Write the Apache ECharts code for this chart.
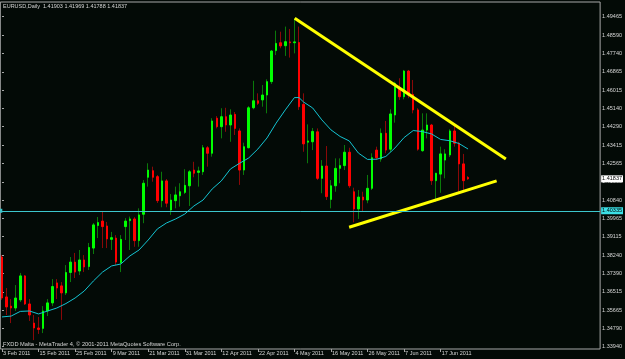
<!DOCTYPE html>
<html>
<head>
<meta charset="utf-8">
<script src="https://cdn.jsdelivr.net/npm/echarts@6/dist/echarts.min.js"></script>
<style>
html, body { margin: 0; padding: 0; background: #030a06; }
#chart { width: 625px; height: 359px; }
</style>
</head>
<body>
<div id="chart"></div>
<script>
// EURUSD daily bars, bar 0 = 3 Feb 2011, last bar is the open one
const openP = [
  1.3816, 1.3628, 1.3585, 1.3576, 1.3614, 1.3727, 1.3595, 1.3505, 1.3482, 1.3480,
  1.3562, 1.3600, 1.3694, 1.3680, 1.3647, 1.3743, 1.3792, 1.3750, 1.3802, 1.3771,
  1.3858, 1.3964, 1.3985, 1.3962, 1.3899, 1.3905, 1.3789, 1.3959, 1.3987, 1.3995,
  1.3893, 1.4017, 1.4191, 1.4222, 1.4194, 1.4081, 1.4174, 1.4037, 1.4081, 1.4104,
  1.4120, 1.4151, 1.4225, 1.4214, 1.4217, 1.4330, 1.4304, 1.4469, 1.4429, 1.4476,
  1.4437, 1.4487, 1.4409, 1.4225, 1.4330, 1.4518, 1.4551, 1.4555, 1.4578, 1.4641,
  1.4787, 1.4824, 1.4810, 1.4828, 1.4824, 1.4825, 1.4534, 1.4356, 1.4358, 1.4405,
  1.4186, 1.4244, 1.4087, 1.4151, 1.4233, 1.4246, 1.4309, 1.4123, 1.4042, 1.4098,
  1.4084, 1.4139, 1.4319, 1.4277, 1.4398, 1.4323, 1.4484, 1.4610, 1.4570, 1.4691,
  1.4581, 1.4508, 1.4316, 1.4413, 1.4437, 1.4175, 1.4206, 1.4272, 1.4296, 1.4409,
  1.4351, 1.4254, 1.41903
];
const closeP = [
  1.3623, 1.3581, 1.3576, 1.3623, 1.3727, 1.3595, 1.3543, 1.3482, 1.3475, 1.3562,
  1.3600, 1.3677, 1.3670, 1.3647, 1.3743, 1.3792, 1.3745, 1.3802, 1.3769, 1.3861,
  1.3967, 1.3978, 1.3959, 1.3901, 1.3907, 1.3792, 1.3899, 1.3985, 1.3995, 1.3893,
  1.4014, 1.4163, 1.4225, 1.4191, 1.4081, 1.4174, 1.4069, 1.4084, 1.4108, 1.4123,
  1.4153, 1.4217, 1.4210, 1.4221, 1.4330, 1.4304, 1.4456, 1.4429, 1.4476, 1.4437,
  1.4484, 1.4421, 1.4225, 1.4335, 1.4518, 1.4551, 1.4539, 1.4578, 1.4641, 1.4785,
  1.4821, 1.4809, 1.4829, 1.4824, 1.4828, 1.4523, 1.4348, 1.4362, 1.4407, 1.4186,
  1.4244, 1.4100, 1.4151, 1.4233, 1.4246, 1.4309, 1.4151, 1.4042, 1.4098, 1.4084,
  1.4139, 1.4283, 1.4283, 1.4398, 1.4319, 1.4489, 1.4633, 1.4570, 1.4691, 1.4578,
  1.4508, 1.4323, 1.4413, 1.4437, 1.4175, 1.4210, 1.4301, 1.4301, 1.4409, 1.4351,
  1.4254, 1.4175, 1.41837
];
const lowP = [
  1.3614, 1.3543, 1.3505, 1.3562, 1.3604, 1.3590, 1.3515, 1.3425, 1.3454, 1.3458,
  1.3538, 1.3585, 1.3618, 1.3520, 1.3637, 1.3698, 1.3717, 1.3731, 1.3745, 1.3755,
  1.3830, 1.3905, 1.3858, 1.3858, 1.3849, 1.3778, 1.3745, 1.3896, 1.3849, 1.3864,
  1.3864, 1.3975, 1.4147, 1.4170, 1.4070, 1.4050, 1.4050, 1.4014, 1.4045, 1.4053,
  1.4112, 1.4056, 1.4191, 1.4147, 1.4202, 1.4241, 1.4288, 1.4421, 1.4374, 1.4405,
  1.4358, 1.4390, 1.4155, 1.4202, 1.4327, 1.4511, 1.4531, 1.4523, 1.4492, 1.4630,
  1.4766, 1.4798, 1.4762, 1.4754, 1.4774, 1.4508, 1.4311, 1.4257, 1.4319, 1.4178,
  1.4116, 1.4084, 1.4045, 1.4123, 1.4163, 1.4225, 1.4141, 1.3979, 1.3995, 1.4029,
  1.4069, 1.4131, 1.4272, 1.4264, 1.4304, 1.4310, 1.4448, 1.4555, 1.4558, 1.4563,
  1.4492, 1.4316, 1.4311, 1.4374, 1.4155, 1.4076, 1.4118, 1.4186, 1.4286, 1.4335,
  1.4123, 1.4131, 1.41788
];
const highP = [
  1.3825, 1.3670, 1.3618, 1.3684, 1.3741, 1.3731, 1.3618, 1.3543, 1.3534, 1.3585,
  1.3618, 1.3712, 1.3712, 1.3698, 1.3778, 1.3816, 1.3835, 1.3849, 1.3825, 1.3882,
  1.3976, 1.4004, 1.4032, 1.3981, 1.3934, 1.3919, 1.3919, 1.3999, 1.4006, 1.4004,
  1.4045, 1.4178, 1.4257, 1.4241, 1.4202, 1.4217, 1.4183, 1.4112, 1.4147, 1.4163,
  1.4229, 1.4225, 1.4264, 1.4241, 1.4343, 1.4338, 1.4469, 1.4479, 1.4516, 1.4518,
  1.4511, 1.4498, 1.4421, 1.4354, 1.4526, 1.4645, 1.4586, 1.4625, 1.4652, 1.4790,
  1.4881, 1.4876, 1.4900, 1.4889, 1.4939, 1.4900, 1.4586, 1.4440, 1.4423, 1.4421,
  1.4272, 1.4338, 1.4178, 1.4280, 1.4280, 1.4343, 1.4330, 1.4142, 1.4131, 1.4123,
  1.4202, 1.4304, 1.4335, 1.4421, 1.4456, 1.4511, 1.4641, 1.4657, 1.4696, 1.4696,
  1.4649, 1.4516, 1.4492, 1.4492, 1.4442, 1.4212, 1.4335, 1.4323, 1.4417, 1.4442,
  1.4358, 1.4301, 1.41969
];

// moving average: [bar, price]
const maPoints = [
  [0, 1.3534], [2, 1.3538], [4, 1.3560], [6, 1.3562], [8, 1.3548], [10, 1.3562],
  [12, 1.3576], [14, 1.3597], [16, 1.3623], [18, 1.3656], [20, 1.3703], [22, 1.3745],
  [24, 1.3774], [26, 1.3783], [28, 1.3821], [30, 1.3849], [32, 1.3896], [34, 1.3948],
  [36, 1.3976], [38, 1.3995], [40, 1.4018], [42, 1.4056], [44, 1.4084], [46, 1.4136],
  [48, 1.4174], [50, 1.4230], [52, 1.4257], [54, 1.4282], [56, 1.4324], [58, 1.4376],
  [60, 1.4446], [62, 1.4508], [64, 1.4566], [65, 1.4566], [66, 1.4545], [68, 1.4517],
  [70, 1.4461], [72, 1.4414], [74, 1.4383], [76, 1.4362], [78, 1.4305], [80, 1.4275],
  [82, 1.4276], [84, 1.4289], [86, 1.4329], [88, 1.4378], [90, 1.4411], [92, 1.4406],
  [94, 1.4395], [96, 1.4369], [98, 1.4363], [100, 1.4350], [102, 1.4324]
];

// trend lines drawn on the chart: [bar, price]
const upperTrend = [[64.06, 1.4939], [110.27, 1.4277]];
const lowerTrend = [[75.97, 1.3956], [108.25, 1.4174]];
const hLinePrice = 1.40335;
const lastPrice = 1.41837;

const xTickBars = [0, 8, 16, 24, 32, 40, 48, 56, 64, 72, 80, 88, 96];
const xTickLabels = ['3 Feb 2011', '15 Feb 2011', '25 Feb 2011', '9 Mar 2011', '21 Mar 2011',
  '31 Mar 2011', '12 Apr 2011', '22 Apr 2011', '4 May 2011', '16 May 2011', '26 May 2011',
  '7 Jun 2011', '17 Jun 2011'];
const yTickLabels = [1.33940, 1.34790, 1.35665, 1.36515, 1.37390, 1.38240, 1.39115, 1.39965,
  1.40840, 1.41690, 1.42565, 1.43415, 1.44290, 1.45140, 1.46015, 1.46865, 1.47740, 1.48590, 1.49465];

const candles = openP.map((o, i) => [i, o, closeP[i], lowP[i], highP[i]]);
// bodies only (no shadow) so the wicks can keep the darker bar colour
const bodies = openP.map((o, i) => [i, o, closeP[i], Math.min(o, closeP[i]), Math.max(o, closeP[i])]);

const axisGrey = '#a8a8a8';
const textGrey = '#d6d6d6';
const fs = 5.5;

function priceLabel(bg) {
  return {
    position: 'end', distance: 1,
    formatter: function (p) { return Number(p.value).toFixed(5); },
    backgroundColor: bg, color: '#000000',
    fontSize: fs, padding: [1, 1, 0, 1]
  };
}

const chart = echarts.init(document.getElementById('chart'));
chart.setOption({
  animation: false,
  backgroundColor: '#030a06',
  textStyle: { fontFamily: 'Liberation Sans' },
  title: [
    {
      text: 'EURUSD,Daily  1.41903 1.41969 1.41788 1.41837',
      left: 3, top: 3, padding: 0,
      textStyle: { color: textGrey, fontSize: fs, fontWeight: 'normal' }
    },
    {
      text: 'FXDD Malta - MetaTrader 4, © 2001-2011 MetaQuotes Software Corp.',
      left: 3, top: 341, padding: 0,
      textStyle: { color: textGrey, fontSize: 5.7, fontWeight: 'normal' }
    }
  ],
  grid: {
    left: 0, right: 22, top: 2, bottom: 10,
    show: true, borderColor: axisGrey, borderWidth: 1
  },
  xAxis: {
    type: 'value',
    min: -0.37,
    max: 130.9,
    splitLine: { show: false },
    axisLine: { show: false },
    axisTick: { show: true, customValues: xTickBars, length: 3, lineStyle: { color: axisGrey } },
    axisLabel: {
      customValues: xTickBars,
      formatter: function (v) {
        const k = xTickBars.indexOf(v);
        return k < 0 ? '' : xTickLabels[k];
      },
      align: 'left',
      padding: [0, 0, 0, 1],
      margin: 1,
      fontSize: fs,
      color: textGrey
    }
  },
  yAxis: {
    type: 'value',
    position: 'right',
    min: 1.33831,
    max: 1.50157,
    splitLine: { show: false },
    axisLine: { show: false },
    axisTick: { show: true, customValues: yTickLabels, length: 2, lineStyle: { color: axisGrey } },
    axisLabel: {
      customValues: yTickLabels,
      formatter: function (v) { return v.toFixed(5); },
      margin: 2,
      fontSize: fs,
      color: textGrey
    }
  },
  series: [
    {
      // shadows
      type: 'candlestick',
      data: candles,
      encode: { x: 0, y: [1, 2, 3, 4] },
      barWidth: 1,
      silent: true,
      itemStyle: {
        color: '#0a7a0a', color0: '#8a0808',
        borderColor: '#0a7a0a', borderColor0: '#8a0808', borderWidth: 1
      }
    },
    {
      // bodies
      type: 'candlestick',
      data: bodies,
      encode: { x: 0, y: [1, 2, 3, 4] },
      barWidth: 2,
      silent: true,
      itemStyle: {
        color: '#00ff00', color0: '#ff0000',
        borderColor: '#00ff00', borderColor0: '#ff0000', borderWidth: 1
      }
    },
    {
      type: 'line',
      data: maPoints,
      symbol: 'none',
      silent: true,
      lineStyle: { color: '#14c4d2', width: 1 },
      markLine: {
        silent: true,
        symbol: ['rect', 'none'],
        symbolSize: 4,
        precision: 5,
        data: [{ yAxis: hLinePrice }],
        lineStyle: { color: '#3cc6cc', width: 1, type: 'solid' },
        label: priceLabel('#3ce0e6')
      }
    },
    {
      type: 'line',
      data: upperTrend,
      symbol: 'none',
      silent: true,
      lineStyle: { color: '#ffff00', width: 3 },
      markLine: {
        silent: true,
        symbol: 'none',
        precision: 5,
        data: [{ yAxis: lastPrice }],
        lineStyle: { color: 'rgba(0,0,0,0)', width: 1, type: 'solid' },
        label: priceLabel('#ffffff')
      }
    },
    {
      type: 'line',
      data: lowerTrend,
      symbol: 'none',
      silent: true,
      lineStyle: { color: '#ffff00', width: 3 }
    }
  ]
});
</script>
</body>
</html>
